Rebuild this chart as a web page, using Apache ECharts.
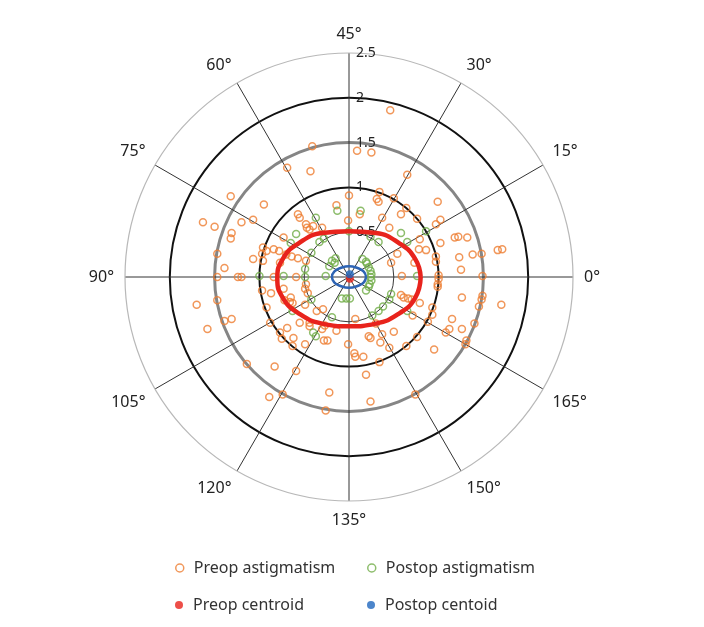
<!DOCTYPE html>
<html><head><meta charset="utf-8">
<script src="https://cdn.jsdelivr.net/npm/echarts@6/dist/echarts.min.js"></script>
<style>html,body{margin:0;padding:0;background:#fff}#c{width:704px;height:627px}</style>
</head><body><div id="c"></div>
<script>
// Radius ticks (D) and angle ticks (degrees, double-angle plot)
const radiusTicks = [0, 0.5, 1, 1.5, 2, 2.5];
const angleTicks = [0, 15, 30, 45, 60, 75, 90, 105, 120, 135, 150, 165];

// Double-angle vector components [x, y] in dioptres
const preopAstig = [
[-0.41,1.46],[-0.69,1.22],[-0.43,1.18],[-1.32,0.90],[-0.95,0.81],[-0.57,0.70],[-0.14,0.80],[0.00,0.91],[-1.07,0.64],[-1.20,0.61],[-1.63,0.61],[-1.50,0.56],[-0.48,0.59],[-0.47,0.55],[-1.31,0.49],[-1.32,0.43],[-0.73,0.44],[-0.96,0.33],[-0.97,0.26],[-0.96,0.18],[-0.84,0.31],[-0.78,0.29],[-0.70,0.25],[-0.64,0.23],[-0.57,0.21],[-1.07,0.20],[-1.47,0.26],[-1.39,0.10],[-0.77,0.16],[-0.48,0.18],[-0.40,0.57],[-0.44,0.53],[-0.92,0.29],[-0.01,0.63],[-0.30,0.55],[-0.55,0.66],
[0.46,1.86],[0.09,1.41],[0.25,1.39],[0.65,1.14],[0.99,0.84],[0.34,0.95],[0.31,0.87],[0.33,0.84],[0.50,0.88],[0.64,0.77],[0.58,0.70],[0.12,0.70],[0.37,0.66],[0.76,0.65],[1.02,0.64],[0.45,0.55],[0.97,0.59],[1.02,0.38],[1.18,0.44],[1.22,0.45],[1.32,0.44],[1.66,0.30],[1.71,0.31],[1.38,0.25],[1.48,0.26],[1.23,0.22],[1.25,0.08],[0.78,0.31],[0.86,0.30],[0.73,0.16],[0.97,0.23],[0.97,0.17],[0.54,0.26],[0.47,0.16],[0.59,0.01],[1.00,0.02],[1.49,0.01],[0.79,0.42],
[1.00,-0.02],[0.99,-0.08],[0.99,-0.11],[1.26,-0.23],[1.49,-0.21],[1.48,-0.25],[1.45,-0.33],[1.70,-0.31],[1.15,-0.47],[1.26,-0.58],[1.40,-0.52],[1.08,-0.62],[1.12,-0.58],[0.93,-0.34],[0.93,-0.42],[0.88,-0.50],[0.58,-0.20],[0.61,-0.23],[0.66,-0.24],[0.70,-0.25],[0.79,-0.29],[0.71,-0.43],[0.07,-0.47],[0.30,-0.52],[0.50,-0.61],[0.37,-0.64],[0.22,-0.66],[0.24,-0.68],[0.35,-0.73],[0.06,-0.85],[0.07,-0.89],[0.16,-0.89],[0.45,-0.79],[0.64,-0.77],[0.76,-0.67],[0.95,-0.81],[0.34,-0.95],[0.19,-1.09],[0.24,-1.39],[0.74,-1.31],[1.30,-0.75],[1.31,-0.71],
[-0.48,-0.08],[-0.49,-0.13],[-0.46,-0.18],[-0.73,-0.13],[-0.97,-0.15],[-0.87,-0.18],[-0.72,-0.26],[-0.66,-0.28],[-0.92,-0.34],[-0.49,-0.31],[-0.36,-0.38],[-0.29,-0.36],[-1.47,-0.26],[-1.70,-0.31],[-1.39,-0.49],[-1.31,-0.47],[-1.58,-0.58],[-0.88,-0.51],[-0.77,-0.62],[-0.69,-0.57],[-0.44,-0.51],[-0.30,-0.58],[-0.27,-0.54],[-0.14,-0.60],[-1.14,-0.97],[-0.83,-1.00],[-0.59,-1.05],[-0.63,-0.77],[-0.49,-0.75],[-0.28,-0.71],[-0.24,-0.71],[-0.01,-0.75],[-0.75,-0.69],[-0.89,-1.34],[-0.74,-1.31],[-0.22,-1.29],[-0.26,-1.49],[-0.55,-0.51],[-0.44,-0.55],[-0.62,-0.68],[-0.65,-0.23],[-0.63,-0.29],
[-1.47,0],[-1.24,0],[-1.20,0],[-0.84,0],[-0.59,0]
];
const postopAstig = [
[-0.37,0.66],[-0.13,0.74],[-0.65,0.38],[-0.59,0.48],[-0.33,0.39],[-0.28,0.43],[0.00,0.51],[-0.42,0.27],[-0.19,0.18],[-0.16,0.16],[-0.15,0.21],[-0.22,0.12],[-0.49,0.09],[-0.26,0.01],[-0.49,0.00],[-0.73,0.01],[-1.00,0.01],[-0.42,-0.25],[-0.63,-0.38],[-0.19,-0.45],[-0.08,-0.24],[-0.03,-0.24],[0.01,-0.24],[-0.37,-0.66],[-0.40,-0.62],
[0.24,0.45],[0.33,0.39],[0.58,0.49],[0.65,0.39],[0.86,0.51],[0.76,0.01],[0.47,-0.19],[0.45,-0.25],[0.38,-0.33],[0.33,-0.38],[0.65,-0.38],[0.26,-0.43],[0.13,0.74],
[0.15,0.20],[0.19,0.17],[0.20,0.15],[0.22,0.11],[0.24,0.07],[0.25,0.03],[0.24,0.00],[0.25,-0.04],[0.23,-0.08],[0.22,-0.11],[0.19,-0.15]
];
const preopCentroid = [[0.01,-0.02]];
const postopCentroid = [[0.01,0.03]];
// Outline points of the centroid spread ellipses
const preopEllipse = [[0.80,0],[0.74,0.20],[0.57,0.37],[0.30,0.49],[0,0.51],[-0.30,0.49],[-0.57,0.37],[-0.74,0.20],[-0.80,-0.02],[-0.74,-0.23],[-0.57,-0.40],[-0.30,-0.52],[0,-0.55],[0.30,-0.52],[0.57,-0.40],[0.74,-0.23],[0.80,0]];
const postopEllipse = [[0.19,0],[0.165,0.06],[0.095,0.10],[0,0.12],[-0.095,0.10],[-0.165,0.06],[-0.19,0],[-0.165,-0.06],[-0.095,-0.10],[0,-0.12],[0.095,-0.10],[0.165,-0.06],[0.19,0]];

function toPolar(p) {
  const r = Math.hypot(p[0], p[1]);
  let a = Math.atan2(p[1], p[0]) * 90 / Math.PI;
  if (a < 0) a += 180;
  return [r, a];
}

const T = 'rgba(0,0,0,0)';
const CENTER = [349, 277], RAD = 224;
const FONT = 'Noto Sans';
const ORANGE = '#ED7D31', GREEN = '#70AD47', RED = '#E8231C', BLUE = '#1F66BE';

function radiusAxisBase(idx) {
  return {
    polarIndex: idx, type: 'value', min: radiusTicks[0], max: radiusTicks[radiusTicks.length - 1],
    interval: radiusTicks[1] - radiusTicks[0],
    axisLine: { show: false }, axisTick: { show: false }, axisLabel: { show: false }
  };
}

const chart = echarts.init(document.getElementById('c'), null, { renderer: 'canvas' });
chart.setOption({
  backgroundColor: '#fff',
  animation: false,
  polar: [
    { center: CENTER, radius: RAD },
    { center: CENTER, radius: RAD },
    { center: CENTER, radius: RAD }
  ],
  angleAxis: [
    {
      polarIndex: 0, type: 'value', min: 0, max: 180, interval: angleTicks[1] - angleTicks[0],
      startAngle: 0, clockwise: false,
      axisLine: { lineStyle: { color: '#b8b8b8', width: 1.2 } },
      axisTick: { show: false },
      axisLabel: { formatter: v => (angleTicks.indexOf(v) >= 0 ? v + '°' : ''), margin: 11, color: '#222', fontSize: 16, fontFamily: FONT },
      splitLine: { lineStyle: { color: '#333', width: 1 } }
    },
    { polarIndex: 1, type: 'value', min: 0, max: 360, startAngle: 90, show: false },
    { polarIndex: 2, type: 'value', min: 0, max: 360, startAngle: 90, show: false }
  ],
  radiusAxis: [
    Object.assign(radiusAxisBase(0), {
      splitLine: { lineStyle: { color: [T, '#3a3a3a', T, T, T, T], width: 1 } }
    }),
    Object.assign(radiusAxisBase(1), {
      axisLabel: { show: true, margin: -7, align: 'left', verticalAlign: 'middle', color: '#222', fontSize: 14, fontFamily: FONT,
        formatter: v => (v === 0 ? '' : String(v)) },
      splitLine: { lineStyle: { color: [T, T, '#111', T, '#111', T], width: 2 } }
    }),
    Object.assign(radiusAxisBase(2), {
      splitLine: { lineStyle: { color: [T, T, T, '#858585', T, T], width: 3 } }
    })
  ],
  legend: [
    { left: 170, top: 553, itemWidth: 18, itemHeight: 8, textStyle: { fontSize: 16, color: '#333', fontFamily: FONT, lineHeight: 20 },
      data: [{ name: 'Preop astigmatism', icon: 'circle', itemStyle: { color: '#fff', borderColor: ORANGE, borderWidth: 1.5 } }] },
    { left: 362, top: 553, itemWidth: 18, itemHeight: 8, textStyle: { fontSize: 16, color: '#333', fontFamily: FONT, lineHeight: 20 },
      data: [{ name: 'Postop astigmatism', icon: 'circle', itemStyle: { color: '#fff', borderColor: GREEN, borderWidth: 1.5 } }] },
    { left: 170, top: 590, itemWidth: 18, itemHeight: 8, textStyle: { fontSize: 16, color: '#333', fontFamily: FONT, lineHeight: 20 },
      data: [{ name: 'Preop centroid', icon: 'circle', itemStyle: { color: RED } }] },
    { left: 362, top: 590, itemWidth: 18, itemHeight: 8, textStyle: { fontSize: 16, color: '#333', fontFamily: FONT, lineHeight: 20 },
      data: [{ name: 'Postop centoid', icon: 'circle', itemStyle: { color: BLUE } }] }
  ],
  series: [
    { name: 'Preop astigmatism', type: 'scatter', coordinateSystem: 'polar', polarIndex: 0, symbol: 'circle', symbolSize: 7,
      itemStyle: { color: 'rgba(255,255,255,0)', borderColor: ORANGE, borderWidth: 1.5 }, data: preopAstig.map(toPolar) },
    { name: 'Preop spread', type: 'line', coordinateSystem: 'polar', polarIndex: 0, smooth: true, symbol: 'none',
      lineStyle: { color: RED, width: 4.5 }, data: preopEllipse.map(toPolar) },
    { name: 'Postop astigmatism', type: 'scatter', coordinateSystem: 'polar', polarIndex: 0, symbol: 'circle', symbolSize: 7,
      itemStyle: { color: 'rgba(255,255,255,0)', borderColor: GREEN, borderWidth: 1.5 }, data: postopAstig.map(toPolar) },
    { name: 'Postop spread', type: 'line', coordinateSystem: 'polar', polarIndex: 0, smooth: true, symbol: 'none',
      lineStyle: { color: '#2E64B4', width: 2.5 }, data: postopEllipse.map(toPolar) },
    { name: 'Preop centroid', type: 'scatter', coordinateSystem: 'polar', polarIndex: 0, symbol: 'circle', symbolSize: 8,
      itemStyle: { color: RED }, data: preopCentroid.map(toPolar) },
    { name: 'Postop centoid', type: 'scatter', coordinateSystem: 'polar', polarIndex: 0, symbol: 'circle', symbolSize: 8,
      itemStyle: { color: BLUE }, data: postopCentroid.map(toPolar) }
  ]
});
</script>
</body></html>
